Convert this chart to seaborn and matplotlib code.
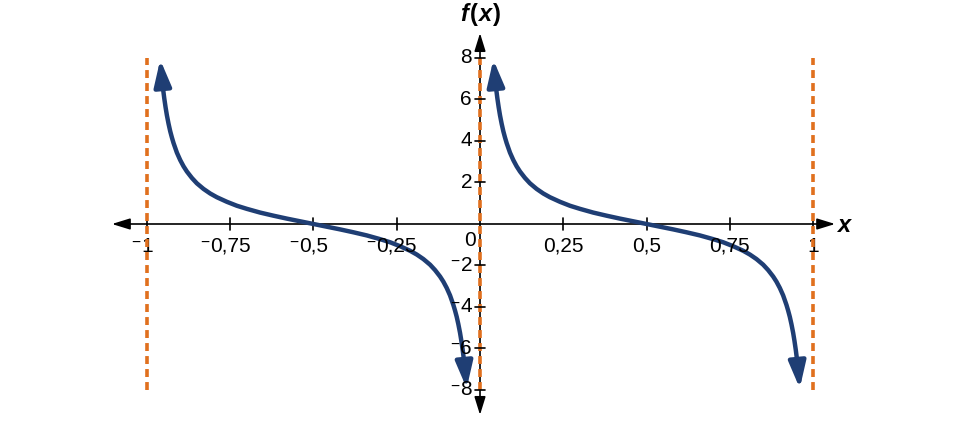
import matplotlib
matplotlib.use("Agg")
import matplotlib.pyplot as plt
import seaborn as sns
import pandas as pd
from matplotlib.transforms import IdentityTransform

# ---- data ----
# one period of the curve: offset t inside the period, and f value
branch_t = [0.04, 0.042, 0.045, 0.048, 0.052, 0.056, 0.06, 0.065, 0.07, 0.075,
            0.08, 0.09, 0.10, 0.11, 0.12, 0.135, 0.15, 0.17, 0.19, 0.21, 0.24,
            0.27, 0.30, 0.34, 0.38, 0.42, 0.46, 0.50, 0.54, 0.58, 0.62, 0.66,
            0.70, 0.73, 0.76, 0.79, 0.81, 0.83, 0.85, 0.865, 0.88, 0.89, 0.90,
            0.91, 0.92, 0.925, 0.93, 0.935, 0.94, 0.944, 0.948, 0.952, 0.955,
            0.958, 0.96]
branch_f = [7.92, 7.53, 7.03, 6.58, 6.07, 5.63, 5.24, 4.83, 4.47, 4.17,
            3.90, 3.44, 3.08, 2.78, 2.53, 2.22, 1.96, 1.69, 1.47, 1.29, 1.07,
            0.88, 0.73, 0.55, 0.40, 0.26, 0.13, 0.0, -0.13, -0.26, -0.40, -0.55,
            -0.73, -0.88, -1.07, -1.29, -1.47, -1.69, -1.96, -2.22, -2.53, -2.78,
            -3.08, -3.44, -3.90, -4.17, -4.47, -4.83, -5.24, -5.63, -6.07, -6.58,
            -7.03, -7.53, -7.92]
branch_starts = [-1, 0]          # each branch begins at one of these asymptotes
asymptotes = [-1, 0, 1]
asym_ymin, asym_ymax = -8, 8

x_ticks = [-1, -0.75, -0.5, -0.25, 0.25, 0.5, 0.75, 1]
x_tick_labels = ["−1", "−0,75", "−0,5", "−0,25", "0,25", "0,5", "0,75", "1"]
y_ticks = [-8, -6, -4, -2, 2, 4, 6, 8]
y_tick_labels = ["−8", "−6", "−4", "−2", "2", "4", "6", "8"]

x_axis_range = (-1.105, 1.066)
y_axis_range = (-9.2, 9.2)

# ---- style ----
curve_color = "#1f3e74"
asym_color = "#e0701e"

sns.set_style("white")
plt.rcParams["font.family"] = ["Liberation Sans", "DejaVu Sans"]
plt.rcParams["text.color"] = "black"

fig = plt.figure(figsize=(9.76, 4.26), dpi=100)
ax = fig.add_axes([0, 0, 1, 1])
ax.set_xlim(-1.441, 1.489)
ax.set_ylim(-9.735, 10.795)
ax.axis("off")

axis_arrow = dict(arrowstyle="<|-|>,head_length=0.55,head_width=0.17",
                  color="black", lw=1.2, shrinkA=0, shrinkB=0, mutation_scale=20)
ax.annotate("", xy=(x_axis_range[1], 0), xytext=(x_axis_range[0], 0),
            arrowprops=axis_arrow, zorder=2)
ax.annotate("", xy=(0, y_axis_range[1]), xytext=(0, y_axis_range[0]),
            arrowprops=axis_arrow, zorder=2)

# tick marks
tick_half_x = 0.3    # in y units
tick_half_y = 0.016  # in x units
for xt in x_ticks:
    ax.plot([xt, xt], [-tick_half_x, tick_half_x], color="black", lw=1.2, zorder=2)
for yt in y_ticks:
    ax.plot([-tick_half_y, tick_half_y], [yt, yt], color="black", lw=1.2, zorder=6)

# asymptotes
for xa in asymptotes:
    ax.plot([xa, xa], [asym_ymin, asym_ymax], color=asym_color, lw=2.6,
            linestyle=(0, (2.2, 1.4)), zorder=5)

# curves
head = dict(arrowstyle="-|>,head_length=0.8,head_width=0.26",
            color=curve_color, lw=3.2, shrinkA=0, shrinkB=0, mutation_scale=20)
for start in branch_starts:
    xs = [start + t for t in branch_t]
    df = pd.DataFrame({"x": xs[1:-1], "f": branch_f[1:-1]})
    sns.lineplot(data=df, x="x", y="f", ax=ax, color=curve_color, lw=3.2,
                 estimator=None, sort=False, zorder=3)
    ax.annotate("", xy=(xs[0], branch_f[0]), xytext=(xs[2], branch_f[2]),
                arrowprops=head, zorder=3)
    ax.annotate("", xy=(xs[-1], branch_f[-1]), xytext=(xs[-3], branch_f[-3]),
                arrowprops=head, zorder=3)
if ax.get_legend():
    ax.get_legend().remove()

fs = 15
renderer = fig.canvas.get_renderer()

# x tick labels: number centred on tick, raised minus hanging to the left
for xt, lab in zip(x_ticks, x_tick_labels):
    neg = lab.startswith("−")
    num = lab[1:] if neg else lab
    t = ax.text(xt, -1.08, num, ha="center", va="center", fontsize=fs, zorder=4)
    if neg:
        bb = t.get_window_extent(renderer)
        yc = ax.transData.transform((0, -1.08))[1]
        ax.text(bb.x0 - 1, yc + 4, "−", ha="right", va="center",
                fontsize=fs * 0.75, transform=IdentityTransform(), zorder=4)

# y tick labels: right aligned left of axis
for yt, lab in zip(y_ticks, y_tick_labels):
    neg = lab.startswith("−")
    num = lab[1:] if neg else lab
    t = ax.text(-0.024, yt, num, ha="right", va="center", fontsize=fs, zorder=6)
    if neg:
        bb = t.get_window_extent(renderer)
        yc = ax.transData.transform((0, yt))[1]
        ax.text(bb.x0 - 1, yc + 4, "−", ha="right", va="center",
                fontsize=fs * 0.75, transform=IdentityTransform(), zorder=6)

# origin label
ax.text(-0.03, -0.78, "0", ha="center", va="center", fontsize=fs, zorder=4)

# axis titles: f(x) built from pieces placed one after another
title_parts = [("f", "italic"), ("(", "normal"), ("x", "italic"), (")", "normal")]
x_pix = ax.transData.transform((-0.06, 10.1))
cur_x, y_pix = x_pix
for s, style in title_parts:
    t = fig.text(cur_x / fig.bbox.width, y_pix / fig.bbox.height, s, ha="left",
                 va="center", fontsize=17, fontweight="bold", fontstyle=style)
    bb = t.get_window_extent(renderer)
    cur_x = bb.x1 + (2 if style == "italic" else 0)
ax.text(1.073, -0.05, "x", ha="left", va="center", fontsize=17,
        fontweight="bold", fontstyle="italic")

fig.savefig("out.png", dpi=100)
